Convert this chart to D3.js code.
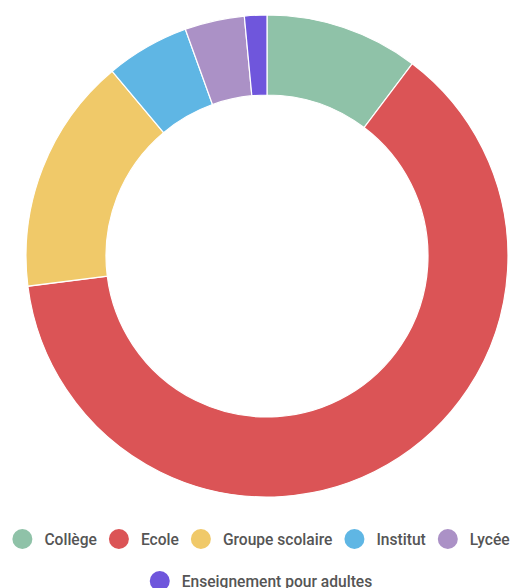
<!DOCTYPE html>
<html>
<head>
<meta charset="utf-8">
<script src="https://cdn.jsdelivr.net/npm/d3@7"></script>
<style>
  body { margin: 0; background: #fff; }
  svg { display: block; }
  text { font-family: Roboto, "Noto Sans", sans-serif; }
</style>
</head>
<body>
<svg id="chart" width="512" height="588"></svg>
<script>
const categories = ["Collège", "Ecole", "Groupe scolaire", "Institut", "Lycée", "Enseignement pour adultes"];
const values = [10.3, 62.7, 15.9, 5.6, 4.0, 1.5];
const colors = ["#8fc2a8", "#db5456", "#f0c969", "#5fb6e4", "#ab91c6", "#6f56dc"];

const svg = d3.select("#chart");
const cx = 267, cy = 256, outerR = 241, innerR = 161;

const pie = d3.pie().sort(null).value(d => d.value);
const arc = d3.arc().innerRadius(innerR).outerRadius(outerR);
const data = categories.map((c, i) => ({ name: c, value: values[i], color: colors[i] }));

const g = svg.append("g").attr("transform", `translate(${cx},${cy})`);
g.selectAll("path").data(pie(data)).enter().append("path")
    .attr("d", arc)
    .attr("fill", d => d.data.color)
    .attr("stroke", "#fff")
    .attr("stroke-width", 1.2);

// legend: wrap items into rows, each row centred
const fs = 15.6;
const legendCenter = 261, rowY = [539, 581], dotR = 10, dotGap = 12, itemGap = 12, maxW = 505;
const items = data.map(d => {
    const t = svg.append("text").attr("font-size", fs).attr("font-weight", 500).text(d.name);
    const w = t.node().getComputedTextLength();
    t.remove();
    return { ...d, tw: w, w: dotR * 2 + dotGap + w };
});

const rows = [[]];
let cur = 0;
items.forEach(it => {
    const add = (rows[rows.length - 1].length ? itemGap : 0) + it.w;
    if (cur + add > maxW && rows[rows.length - 1].length) { rows.push([it]); cur = it.w; }
    else { rows[rows.length - 1].push(it); cur += add; }
});

rows.forEach((row, ri) => {
    const total = d3.sum(row, d => d.w) + itemGap * (row.length - 1);
    let x = legendCenter - total / 2;
    const y = rowY[ri];
    row.forEach(it => {
        svg.append("circle").attr("cx", x + dotR).attr("cy", y).attr("r", dotR).attr("fill", it.color);
        svg.append("text").attr("x", x + dotR * 2 + dotGap).attr("y", y + 5.5)
            .attr("font-size", fs).attr("font-weight", 500).attr("fill", "#555")
            .text(it.name);
        x += it.w + itemGap;
    });
});
</script>
</body>
</html>
